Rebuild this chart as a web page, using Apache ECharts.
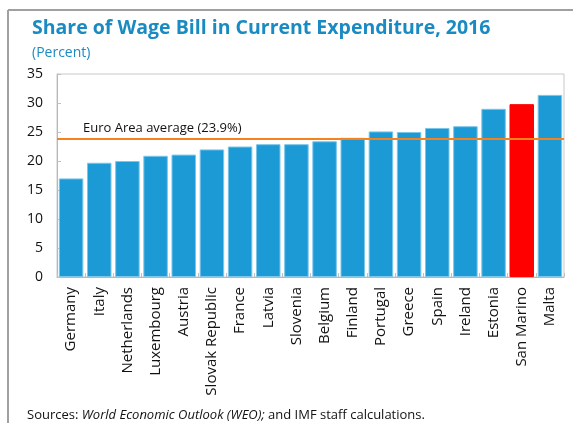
<!DOCTYPE html>
<html>
<head>
<meta charset="utf-8">
<script src="https://cdn.jsdelivr.net/npm/echarts@6/dist/echarts.min.js"></script>
<style>
  html, body { margin: 0; padding: 0; background: #fff; }
  #chart { width: 573px; height: 423px; }
</style>
</head>
<body>
<div id="chart"></div>
<script>
// data
const countries = ["Germany", "Italy", "Netherlands", "Luxembourg", "Austria", "Slovak Republic",
  "France", "Latvia", "Slovenia", "Belgium", "Finland", "Portugal", "Greece", "Spain",
  "Ireland", "Estonia", "San Marino", "Malta"];
const wageShare = [17.0, 19.7, 20.0, 20.9, 21.1, 22.0, 22.5, 22.9, 22.9, 23.4, 24.0, 25.1,
  25.0, 25.7, 26.0, 29.0, 29.8, 31.4];
const euroAverage = 23.9;
const yTicks = [0, 5, 10, 15, 20, 25, 30, 35];

const highlight = "San Marino";
const font = "Open Sans";

const chart = echarts.init(document.getElementById("chart"));

const frame = [
  { type: "line", shape: { x1: 8, y1: 10, x2: 573, y2: 10 }, style: { stroke: "#a0a0a0", lineWidth: 2 } },
  { type: "line", shape: { x1: 8, y1: 10, x2: 8, y2: 423 }, style: { stroke: "#a0a0a0", lineWidth: 2 } },
];

const option = {
  animation: false,
  textStyle: { fontFamily: font },
  title: [
    {
      text: "Share of Wage Bill in Current Expenditure, 2016",
      left: 27,
      top: 13,
      textStyle: { fontSize: 19.5, fontWeight: "bold", color: "#1a8bc2", fontFamily: font },
    },
    {
      text: "(Percent)",
      left: 27,
      top: 41,
      textStyle: { fontSize: 14, fontWeight: "normal", color: "#1a8bc2", fontFamily: font },
    },
    {
      text: "Sources: {i|World Economic Outlook (WEO);} and IMF staff calculations.",
      left: 22,
      top: 404,
      textStyle: {
        fontSize: 13,
        fontWeight: "normal",
        color: "#111",
        fontFamily: font,
        rich: { i: { fontStyle: "italic", fontSize: 13, color: "#111", fontFamily: font } },
      },
    },
  ],
  graphic: frame,
  grid: { left: 57, right: 9, top: 74, bottom: 146, show: true, borderColor: "#c8c8c8", borderWidth: 1 },
  xAxis: {
    type: "category",
    data: countries,
    axisLine: { lineStyle: { color: "#b8b8b8" } },
    axisTick: { show: true, inside: true, length: 4, lineStyle: { color: "#c0c0c0" } },
    axisLabel: { rotate: 90, interval: 0, fontSize: 15, color: "#111", margin: 10, fontFamily: font },
  },
  yAxis: {
    type: "value",
    min: yTicks[0],
    max: yTicks[yTicks.length - 1],
    interval: 5,
    splitLine: { show: false },
    axisLine: { show: true, lineStyle: { color: "#b8b8b8" } },
    axisTick: { show: true, inside: true, length: 4, lineStyle: { color: "#c0c0c0" } },
    axisLabel: { fontSize: 14, color: "#111", margin: 14, fontFamily: font },
  },
  series: [
    {
      type: "bar",
      data: wageShare.map((v, i) => ({
        value: v,
        itemStyle: countries[i] === highlight
          ? { color: "#ff0000", borderColor: "#ff0000" }
          : { color: "#1b9ad6", borderColor: "#7cc6ea" },
      })),
      barCategoryGap: "13%",
      itemStyle: { borderWidth: 1 },
      markLine: {
        silent: true,
        symbol: "none",
        lineStyle: { color: "#f5821f", width: 2, type: "solid" },
        label: { show: false },
        data: [{ yAxis: euroAverage }],
      },
    },
  ],
};

chart.setOption(option);

// label for the euro area line, placed through the axis scale
const p = chart.convertToPixel({ gridIndex: 0 }, [countries[0], euroAverage]);
chart.setOption({
  graphic: frame.concat([
    {
      type: "text",
      left: 83,
      top: p[1] - 17,
      style: { text: "Euro Area average (" + euroAverage + "%)", fontSize: 13, fill: "#111", fontFamily: font },
    },
  ]),
});
</script>
</body>
</html>
